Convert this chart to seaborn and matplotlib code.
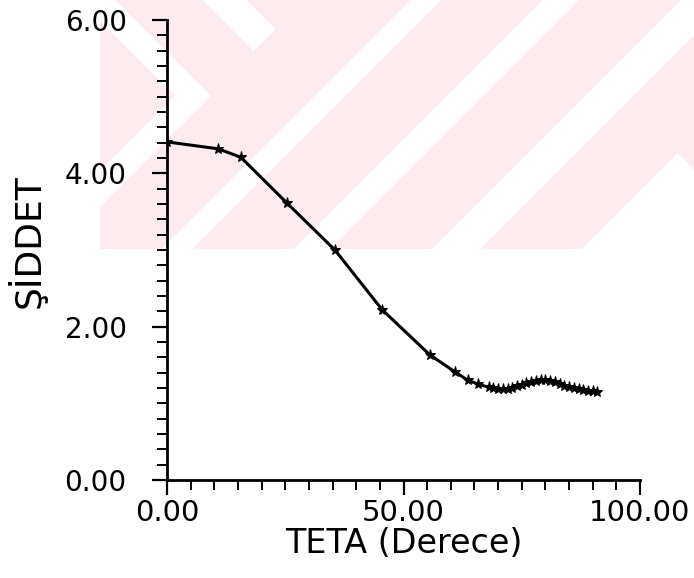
import numpy as np
import pandas as pd
import matplotlib
matplotlib.use("Agg")
import matplotlib.pyplot as plt
import seaborn as sns
from matplotlib.ticker import MultipleLocator, FormatStrFormatter

teta = [0.0, 10.8, 15.6, 25.4, 35.5, 45.5, 55.6, 60.9, 63.6, 65.8,
        68, 69, 70, 71, 72, 73, 74, 75, 76, 77, 78, 79, 80, 81, 82,
        83, 84, 85, 86, 87, 88, 89, 90, 91]
siddet = [4.41, 4.32, 4.21, 3.61, 3.00, 2.22, 1.63, 1.41, 1.30, 1.25,
          1.21, 1.20, 1.19, 1.19, 1.19, 1.20, 1.22, 1.24, 1.26, 1.28, 1.29, 1.30, 1.30, 1.29, 1.28,
          1.25, 1.23, 1.21, 1.20, 1.19, 1.17, 1.16, 1.16, 1.15]

x_label = "TETA (Derece)"
y_label = "ŞİDDET"

df = pd.DataFrame({"teta": teta, "siddet": siddet})

sns.set_style("ticks")
plt.rcParams["font.family"] = ["DejaVu Sans"]
plt.rcParams["text.color"] = "black"
plt.rcParams["axes.labelcolor"] = "black"
plt.rcParams["xtick.color"] = "black"
plt.rcParams["ytick.color"] = "black"

W, H = 694, 578
fig = plt.figure(figsize=(W / 100, H / 100), dpi=100)

# faint pink watermark in the background (scanned thesis page)
yy, xx = np.mgrid[0:H, 0:W].astype(float)
s = xx + yy
d = xx - yy
pink = (xx >= 100) & (yy <= 248)
white = np.zeros_like(pink)
white |= (d >= 203) & (d <= 246) & (s <= 303)
white |= (s >= 410) & (s <= 440)
white |= (s >= 542) & (s <= 577)
white |= (s >= 680) & (s <= 728)
white |= (s >= 830) & (yy >= xx - 524)
chev = xx + np.abs(yy - 95)
white |= (chev >= 175) & (chev <= 210)
mask = pink & ~white
img = np.ones((H, W, 4))
img[..., 0] = 253 / 255
img[..., 1] = 235 / 255
img[..., 2] = 239 / 255
img[..., 3] = mask.astype(float)
fig.figimage(img, xo=0, yo=0, origin="upper", zorder=0)

ax = fig.add_axes([167 / W, 1 - 480 / H, (640 - 167) / W, (480 - 20) / H])
ax.set_facecolor("none")
ax.set_zorder(2)

sns.lineplot(data=df, x="teta", y="siddet", ax=ax, color="black", linewidth=2.2,
             marker="*", markersize=8, markeredgecolor="black", markerfacecolor="black")

ax.set_xlim(0, 100)
ax.set_ylim(0, 6)
ax.xaxis.set_major_locator(MultipleLocator(50))
ax.xaxis.set_minor_locator(MultipleLocator(5))
ax.yaxis.set_major_locator(MultipleLocator(2))
ax.yaxis.set_minor_locator(MultipleLocator(0.2))
ax.xaxis.set_major_formatter(FormatStrFormatter("%.2f"))
ax.yaxis.set_major_formatter(FormatStrFormatter("%.2f"))

for sp in ["top", "right"]:
    ax.spines[sp].set_visible(False)
for sp in ["left", "bottom"]:
    ax.spines[sp].set_linewidth(2)
    ax.spines[sp].set_color("black")

ax.tick_params(axis="both", which="major", length=11, width=1.6, color="black", direction="out")
ax.tick_params(axis="both", which="minor", length=7, width=1.4, color="black", direction="out")
ax.tick_params(axis="x", which="major", labelsize=21, pad=3)
ax.tick_params(axis="y", which="major", labelsize=20, pad=18)

ax.set_xlabel(x_label, fontsize=24, labelpad=0)
ax.set_ylabel(y_label, fontsize=26)
ax.yaxis.set_label_coords(-0.255, 0.52)

fig.savefig("out.png", dpi=100)
